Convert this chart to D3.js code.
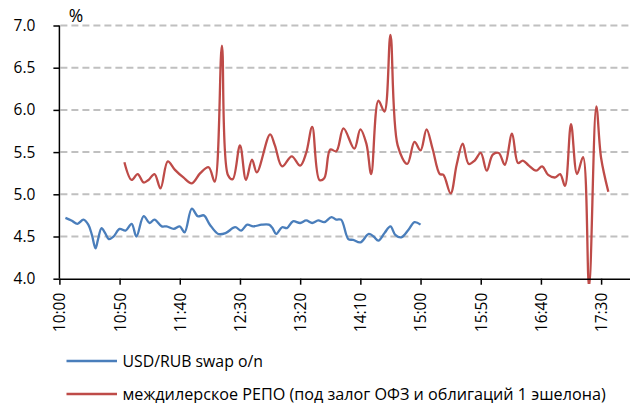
<!DOCTYPE html>
<html lang="ru">
<head>
<meta charset="utf-8">
<title>USD/RUB swap o/n и междилерское РЕПО</title>
<script src="https://d3js.org/d3.v7.min.js"></script>
<style>
  body { margin: 0; background: #fff; }
  svg { display: block; font-family: "Open Sans", sans-serif; }
  .grid line { stroke: #c0c0c0; stroke-width: 2; stroke-dasharray: 7,4; }
  .axis path, .axis line { stroke: #000; stroke-width: 1.5; }
  .axis text { fill: #000; font-size: 15.5px; font-family: "Open Sans", sans-serif; }
  .unit { font-size: 17.5px; fill: #000; }
</style>
</head>
<body>
<script>
// intraday rates, %
var swapTimes = ["10:05","10:10","10:15","10:20","10:24","10:27","10:30","10:32","10:35","10:38",
  "10:41","10:45","10:50","10:55","11:00","11:04","11:10","11:15","11:19","11:25",
  "11:29","11:35","11:40","11:44","11:50","11:55","12:00","12:05","12:12","12:18",
  "12:26","12:31","12:36","12:41","12:48","12:54","12:57","13:00","13:05","13:09",
  "13:14","13:20","13:25","13:30","13:35","13:40","13:46","13:50","13:54","14:00",
  "14:04","14:10","14:17","14:21","14:25","14:30","14:35","14:39","14:44","14:50",
  "14:55","15:00"];
var swapValues = [4.72,4.69,4.65,4.70,4.64,4.52,4.36,4.46,4.60,4.54,
  4.47,4.50,4.59,4.57,4.65,4.50,4.74,4.66,4.70,4.62,
  4.62,4.59,4.62,4.55,4.83,4.74,4.75,4.64,4.53,4.54,
  4.61,4.57,4.64,4.62,4.64,4.64,4.60,4.53,4.61,4.60,
  4.68,4.66,4.69,4.66,4.69,4.67,4.73,4.70,4.70,4.47,
  4.46,4.43,4.53,4.50,4.45,4.54,4.62,4.52,4.49,4.58,
  4.67,4.64];

var repoTimes = ["10:54","11:00","11:05","11:10","11:14","11:19","11:24","11:30","11:36","11:43",
  "11:50","11:57","12:04","12:09","12:15","12:20","12:24","12:30","12:35","12:40",
  "12:44","12:55","12:59","13:05","13:13","13:20","13:25","13:30","13:36","13:40",
  "13:45","13:50","13:56","14:05","14:10","14:15","14:19","14:25","14:30","14:35",
  "14:41","14:49","14:55","15:00","15:05","15:10","15:16","15:19","15:25","15:30",
  "15:35","15:40","15:45","15:50","15:55","16:00","16:05","16:10","16:16","16:21",
  "16:25","16:30","16:36","16:41","16:46","16:52","16:56","17:00","17:05","17:10",
  "17:15","17:20","17:26","17:30","17:36"];
var repoValues = [5.38,5.17,5.24,5.14,5.17,5.24,5.07,5.39,5.29,5.20,
  5.13,5.25,5.32,5.15,6.76,5.23,5.18,5.58,5.17,5.41,
  5.26,5.71,5.58,5.33,5.45,5.34,5.49,5.80,5.17,5.19,
  5.53,5.51,5.78,5.54,5.77,5.60,5.24,6.11,5.98,6.89,
  5.58,5.36,5.62,5.52,5.77,5.54,5.24,5.23,5.01,5.35,
  5.60,5.36,5.40,5.49,5.28,5.47,5.49,5.35,5.72,5.37,
  5.40,5.34,5.28,5.33,5.23,5.20,5.24,5.10,5.83,5.24,
  5.44,3.90,6.04,5.43,5.03];

var xTickLabels = ["10:00","10:50","11:40","12:30","13:20","14:10","15:00","15:50","16:40","17:30"];
var yTicks = [4.0, 4.5, 5.0, 5.5, 6.0, 6.5, 7.0];
var seriesNames = ["USD/RUB swap o/n", "междилерское РЕПО (под залог ОФЗ и облигаций 1 эшелона)"];
var seriesColors = ["#4a7ebb", "#be4b48"];

var width = 630, height = 403;
var parse = d3.timeParse("%H:%M");

var svg = d3.select("body").append("svg")
    .attr("width", width)
    .attr("height", height);

var x = d3.scaleTime()
    .domain([parse("10:00"), parse("17:54")])
    .range([59.4, 630]);

var y = d3.scaleLinear()
    .domain([4, 7])
    .range([278.7, 25.5]);

// dashed gridlines
svg.append("g")
    .attr("class", "grid")
    .selectAll("line")
    .data(yTicks.filter(function(d) { return d > 4; }))
    .enter().append("line")
    .attr("x1", x.range()[0] + 1)
    .attr("x2", width)
    .attr("y1", function(d) { return y(d); })
    .attr("y2", function(d) { return y(d); });

svg.append("clipPath")
    .attr("id", "plot")
    .append("rect")
    .attr("x", x.range()[0])
    .attr("y", 0)
    .attr("width", width - x.range()[0])
    .attr("height", 284);

var line = d3.line()
    .x(function(d) { return x(d[0]); })
    .y(function(d) { return y(d[1]); })
    .curve(d3.curveCatmullRom.alpha(0.5));

var series = [
  swapTimes.map(function(t, i) { return [parse(t), swapValues[i]]; }),
  repoTimes.map(function(t, i) { return [parse(t), repoValues[i]]; })
];

svg.append("g")
    .attr("clip-path", "url(#plot)")
    .selectAll("path")
    .data(series)
    .enter().append("path")
    .attr("fill", "none")
    .attr("stroke", function(d, i) { return seriesColors[i]; })
    .attr("stroke-width", 2.3)
    .attr("stroke-linejoin", "round")
    .attr("d", line);

// y axis
var yAxis = svg.append("g")
    .attr("class", "axis")
    .attr("transform", "translate(" + x.range()[0] + ",0)")
    .call(d3.axisLeft(y)
        .tickValues(yTicks)
        .tickSize(6)
        .tickPadding(18)
        .tickFormat(d3.format(".1f")));
yAxis.select(".domain").attr("d", "M0," + y(7) + "V" + y(4));

svg.append("text")
    .attr("class", "unit")
    .attr("x", 76)
    .attr("y", 22)
    .attr("text-anchor", "middle")
    .text("%");

// x axis
var xAxis = svg.append("g")
    .attr("class", "axis")
    .attr("transform", "translate(0," + y(4) + ")")
    .call(d3.axisBottom(x)
        .tickValues(xTickLabels.map(parse))
        .tickSize(6)
        .tickSizeOuter(0)
        .tickFormat(d3.timeFormat("%H:%M")));
xAxis.selectAll("text")
    .attr("transform", "rotate(-90)")
    .attr("text-anchor", "end")
    .attr("x", -14)
    .attr("y", 0)
    .attr("dy", "0.35em");

// legend
var targetRight = [263, 606];
var legend = svg.append("g").selectAll("g")
    .data(seriesNames)
    .enter().append("g")
    .attr("transform", function(d, i) { return "translate(0," + (361 + i * 33) + ")"; });

legend.append("line")
    .attr("x1", 66.5)
    .attr("x2", 117)
    .attr("stroke", function(d, i) { return seriesColors[i]; })
    .attr("stroke-width", 2.3);

legend.append("text")
    .attr("x", 122.5)
    .attr("y", 5.5)
    .attr("font-size", "16px")
    .attr("fill", "#000")
    .text(function(d) { return d; })
    .each(function(d, i) {
        var w = this.getComputedTextLength();
        var fs = 16 * (targetRight[i] - 122.5) / w;
        d3.select(this).attr("font-size", fs.toFixed(2) + "px");
    });
</script>
</body>
</html>
